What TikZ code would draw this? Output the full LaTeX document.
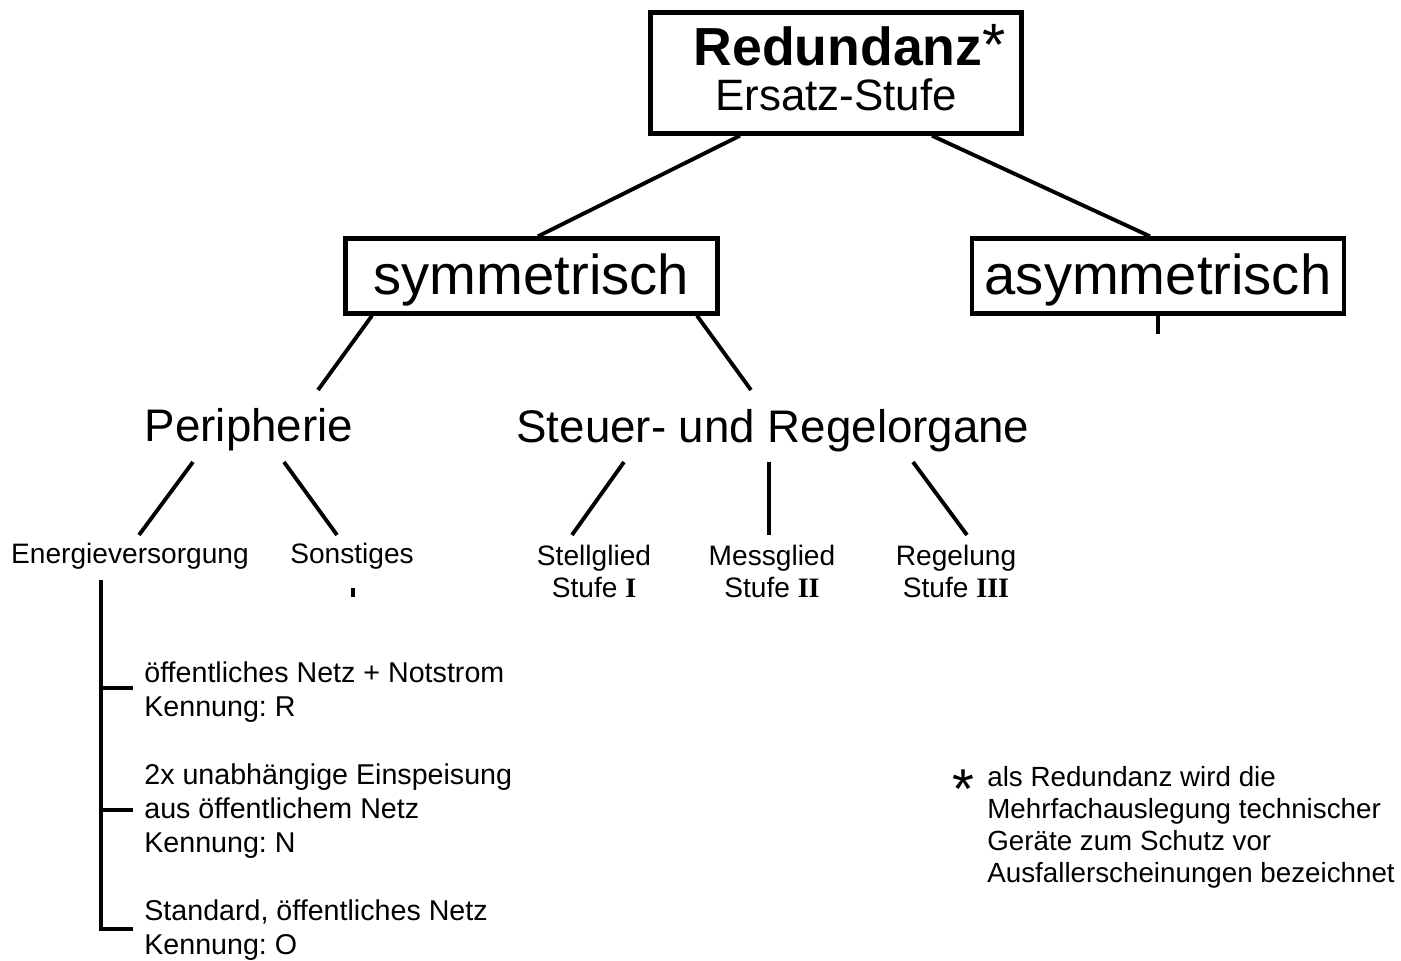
\documentclass[tikz,border=0pt]{standalone}
\usepackage{fontspec}
\setmainfont{Liberation Sans}
\newfontfamily\romfont{Liberation Serif}
\newcommand{\fsz}[2]{\fontsize{#1}{#2}\selectfont}
\newcommand{\stufe}[1]{{\romfont\bfseries #1}}
\frenchspacing

\begin{document}
\begin{tikzpicture}
[
    x=0.02cm, y=-0.02cm,
    box/.style={draw, line width=2.5pt, inner sep=0pt},
    conn/.style={line width=2.2pt},
    txt/.style={inner sep=0pt, anchor=base},
    big/.style={txt, font=\fsz{26}{31}},
    small/.style={txt, align=center, font=\fsz{16}{18.1}},
    block/.style={inner sep=0pt, anchor=base west, align=left, font=\fsz{16.3}{19.3}}
]
    \useasboundingbox (0,0) rectangle (1401,961);

    \node [box, minimum width=7.42cm, minimum height=2.42cm] (red) at (836,73) {};
    \node [txt, font=\fsz{30.5}{36}\bfseries] (redA) at (838,65) {Redundanz\rlap{\mdseries\fsz{34}{34}*}};
    \node [txt, font=\fsz{25}{30}] (redB) at (836,110) {Ersatz-Stufe};

    \node [box, minimum width=7.44cm, minimum height=1.5cm, text height=23pt, text depth=2pt, font=\fsz{32}{38}] (symm) at (531.5,276) {symmetrisch};
    \node [box, minimum width=7.44cm, minimum height=1.5cm, text height=23pt, text depth=2pt, font=\fsz{32}{38}] (asym) at (1158,276) {asymmetrisch};

    \node [big] (peri) at (249,441) {Peripherie};
    \node [big] (steu) at (773,442) {Steuer- und Regelorgane};

    \node [small] (energ) at (130,563) {Energieversorgung};
    \node [small] (sonst) at (352,563) {Sonstiges};
    \node [small] (stell) at (594,597) {Stellglied\\Stufe \stufe{I}};
    \node [small] (mess) at (772,597) {Messglied\\Stufe \stufe{II}};
    \node [small] (regel) at (956,597) {Regelung\\Stufe \stufe{III}};

    \node [block] (opt1) at (144,716) {öffentliches Netz + Notstrom\\Kennung: R};
    \node [block] (opt2) at (144,852) {2x unabhängige Einspeisung\\aus öffentlichem Netz\\Kennung: N};
    \node [block] (opt3) at (144,954) {Standard, öffentliches Netz\\Kennung: O};

    \node [txt, font=\fsz{32}{32}] (star) at (963,808) {*};
    \node [block, font=\fsz{15.8}{18.1}] (note) at (987,882) {als Redundanz wird die\\Mehrfachauslegung technischer\\Geräte zum Schutz vor\\Ausfallerscheinungen bezeichnet};

    \draw [conn] ([shift={(-96,0)}]red.south) -- ([shift={(6.5,0)}]symm.north);
    \draw [conn] ([shift={(96,0)}]red.south) -- ([shift={(-8,0)}]asym.north);
    \draw [conn] (asym.south) -- ([shift={(0,18)}]asym.south);

    \draw [conn] ([shift={(-159.5,0)}]symm.south) -- ([shift={(69,-51)}]peri.base);
    \draw [conn] ([shift={(165.5,0)}]symm.south) -- ([shift={(-22,-52)}]steu.base);

    \draw [conn] ([shift={(-56,21)}]peri.base) -- ([shift={(9,-28)}]energ.base);
    \draw [conn] ([shift={(35,21)}]peri.base) -- ([shift={(-15,-28)}]sonst.base);
    \draw [conn] ([shift={(1,25)}]sonst.base) -- ([shift={(1,34)}]sonst.base);

    \draw [conn] ([shift={(-149,20)}]steu.base) -- ([shift={(-22,-62)}]stell.base);
    \draw [conn] ([shift={(-4,20)}]steu.base) -- ([shift={(-3,-62)}]mess.base);
    \draw [conn] ([shift={(140,20)}]steu.base) -- ([shift={(11,-62)}]regel.base);

    \coordinate (bk) at ([shift={(-29,17)}]energ.base);
    \coordinate (t1) at ([shift={(-11,-28)}]opt1.base west);
    \coordinate (t2) at ([shift={(-11,-42)}]opt2.base west);
    \coordinate (t3) at ([shift={(-11,-25)}]opt3.base west);
    \draw [conn] (bk) |- (t3);
    \draw [conn] (bk |- t1) -- (t1);
    \draw [conn] (bk |- t2) -- (t2);
\end{tikzpicture}
\end{document}
